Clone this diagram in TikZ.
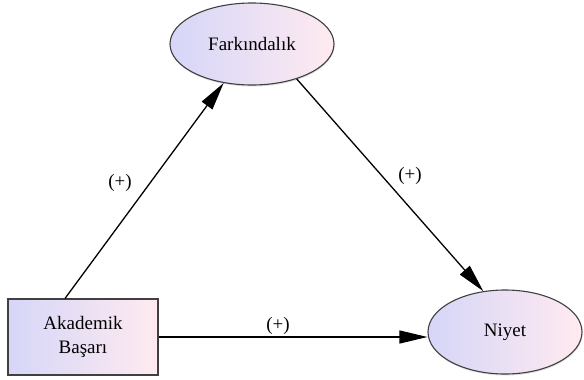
\documentclass[tikz,border=0pt]{standalone}
\usepackage{fontspec}
\setmainfont{Liberation Serif}
\usetikzlibrary{arrows.meta,shapes.geometric,shadows}
\definecolor{fillL}{RGB}{214,214,248}
\definecolor{fillR}{RGB}{255,234,240}
\tikzset{
  concept/.style={ellipse, draw=black!75, line width=1.1pt,
    left color=fillL, right color=fillR, font=\fontsize{19}{21}\selectfont,
    drop shadow={shadow xshift=0.5pt, shadow yshift=-1.5pt, opacity=0.25}},
  sourcebox/.style={rectangle, draw=black!75, line width=1.1pt,
    left color=fillL, right color=fillR, align=center,
    font=\fontsize{19}{24}\selectfont},
  link/.style={draw=black, line width=1.3pt,
    -{Triangle[length=28pt,width=13pt]}},
  sign/.style={font=\fontsize{19}{21}\selectfont}
}
\begin{document}
\begin{tikzpicture}[x=1pt,y=-1pt]
  \useasboundingbox (0,0) rectangle (584,380);
  \node[concept, minimum width=164pt, minimum height=82pt] (fark) at (252,44) {Farkındalık};
  \node[concept, minimum width=154pt, minimum height=84pt] (niyet) at (505,332) {Niyet};
  \node[sourcebox, minimum width=150pt, minimum height=76pt] (akad) at (83,337) {Akademik\\Başarı};
  \draw[link] ([xshift=-18pt]akad.north) -- (fark.234);
  \draw[link] (fark.-38) -- (niyet.118);
  \draw[link] (akad.east) -- (akad.east -| niyet.west);
  \node[sign] (s1) at (120,183) {(+)};
  \node[sign] (s2) at (410,176) {(+)};
  \node[sign] (s3) at (278,326) {(+)};
\end{tikzpicture}
\end{document}
